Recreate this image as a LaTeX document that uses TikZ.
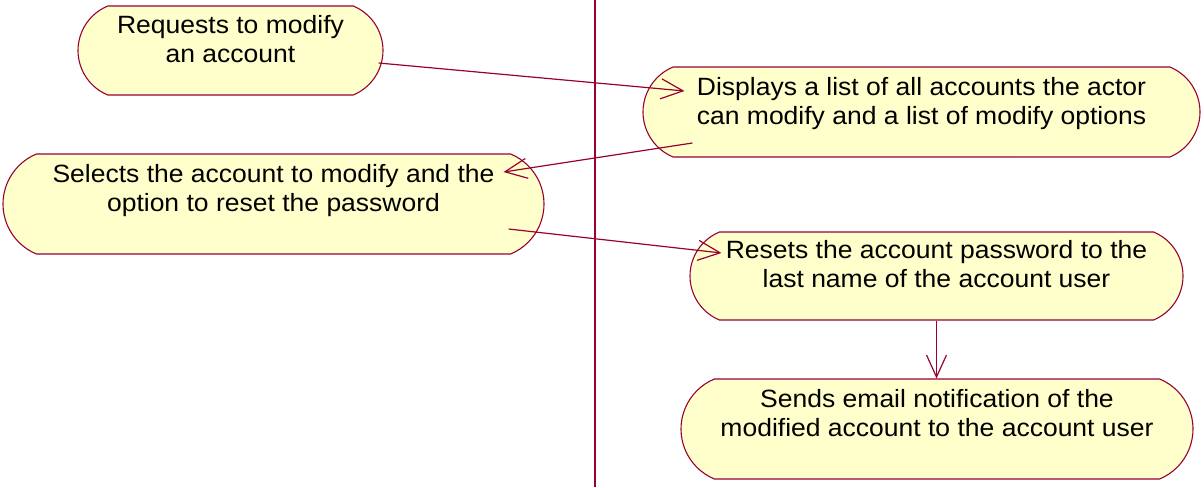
\documentclass[tikz,border=0pt]{standalone}
\usepackage{fontspec}
\setmainfont{Liberation Sans}[FakeStretch=1.06]
\usetikzlibrary{shapes.misc,arrows.meta}
\definecolor{flowline}{RGB}{153,0,51}
\definecolor{actfill}{RGB}{255,255,204}

\begin{document}
\begin{tikzpicture}[x=1pt,y=-1pt]

      \useasboundingbox (0,0) rectangle (1204,487);

      % Swimlane divider
      \coordinate (laneTop) at (595,0);
      \coordinate (laneBot) at (595,487);
      \draw[flowline,line width=1.1pt] (laneTop) -- (laneBot);

      % Nodes
      \begin{scope}[every node/.style={rounded rectangle,rounded rectangle arc length=135,
          draw=flowline,fill=actfill,line width=1.1pt,inner sep=0pt,align=center,
          font=\fontsize{25}{29}\selectfont,text height=57pt}]
        \node[minimum width=305pt,text depth=32pt] (req) at (230.5,50.5) {Requests to modify\\an account};
        \node[minimum width=557pt,text depth=33pt] (disp) at (921.5,112) {Displays a list of all accounts the actor\\can modify and a list of modify options};
        \node[minimum width=541pt,text depth=43pt] (sel) at (273.5,204) {Selects the account to modify and the\\option to reset the password};
        \node[minimum width=493pt,text height=55pt,text depth=33pt] (reset) at (936.5,276) {Resets the account password to the\\last name of the account user};
        \node[minimum width=512pt,text depth=43pt] (send) at (937,429) {Sends email notification of the\\modified account to the account user};
      \end{scope}

      % Edges
      \begin{scope}[every edge/.style={draw=flowline,line width=1.2pt,-{Straight Barb[length=22pt,width=20pt]}}]
        \path ([shift={(-5,12.5)}]req.east) edge ([shift={(42,-21)}]disp.west);
        \path ([shift={(50,31)}]disp.west) edge ([shift={(-41,-32)}]sel.east);
        \path ([shift={(-36,25)}]sel.east) edge ([shift={(32,-23)}]reset.west);
        \path (reset.south) edge (reset.south |- send.north);
      \end{scope}

    \end{tikzpicture}
\end{document}
